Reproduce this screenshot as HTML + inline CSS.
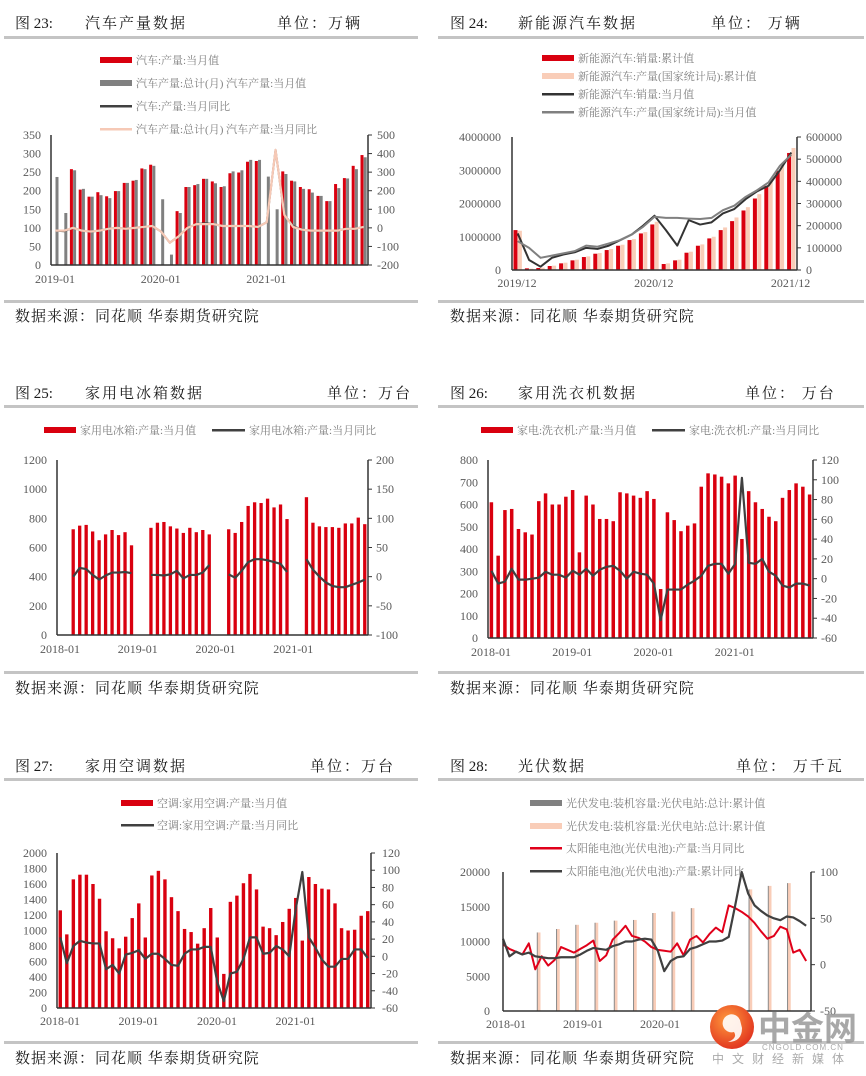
<!DOCTYPE html>
<html><head><meta charset="utf-8">
<style>
html,body{margin:0;padding:0;background:#fff;}
svg{display:block;}
.t{font-family:"Liberation Serif","Noto Serif CJK SC",serif;font-size:15px;fill:#1a1a1a;}
.src{font-family:"Liberation Serif","Noto Serif CJK SC",serif;font-size:15px;fill:#1a1a1a;letter-spacing:1px;}
.lg{font-family:"Liberation Serif","Noto Serif CJK SC",serif;font-size:11px;fill:#7f7f7f;}
.tk{font-family:"Liberation Serif","Noto Serif CJK SC",serif;font-size:12px;fill:#595959;}
</style></head>
<body>
<svg id="page" width="866" height="1076" viewBox="0 0 866 1076" xmlns="http://www.w3.org/2000/svg">
<defs><radialGradient id="wg" cx="40%" cy="35%" r="70%"><stop offset="0" stop-color="#ff9a3c"/><stop offset="1" stop-color="#e0301e"/></radialGradient></defs>
<!-- separators -->
<g fill="#c4c4c4">
<rect x="4" y="36" width="414" height="3"/><rect x="4" y="300" width="414" height="3"/>
<rect x="438" y="36" width="426" height="3"/><rect x="438" y="300" width="426" height="3"/>
<rect x="4" y="405" width="414" height="3"/><rect x="4" y="671" width="414" height="3"/>
<rect x="438" y="405" width="426" height="3"/><rect x="438" y="671" width="426" height="3"/>
<rect x="4" y="778" width="414" height="3"/><rect x="4" y="1041" width="414" height="3"/>
<rect x="438" y="778" width="426" height="3"/><rect x="438" y="1041" width="426" height="3"/>
</g>
<!-- titles -->
<text class="t" x="15" y="28">图 23:</text>
<text class="t" x="85" y="28" letter-spacing="2">汽车产量数据</text>
<text class="t" x="277" y="28" letter-spacing="2">单位：万辆</text>
<text class="t" x="450" y="28">图 24:</text>
<text class="t" x="518" y="28" letter-spacing="2">新能源汽车数据</text>
<text class="t" x="711" y="28" letter-spacing="2">单位：  万辆</text>
<text class="t" x="15" y="398">图 25:</text>
<text class="t" x="85" y="398" letter-spacing="2">家用电冰箱数据</text>
<text class="t" x="327" y="398" letter-spacing="2">单位：万台</text>
<text class="t" x="450" y="398">图 26:</text>
<text class="t" x="518" y="398" letter-spacing="2">家用洗衣机数据</text>
<text class="t" x="745" y="398" letter-spacing="2">单位：  万台</text>
<text class="t" x="15" y="771">图 27:</text>
<text class="t" x="85" y="771" letter-spacing="2">家用空调数据</text>
<text class="t" x="310" y="771" letter-spacing="2">单位：万台</text>
<text class="t" x="450" y="771">图 28:</text>
<text class="t" x="518" y="771" letter-spacing="2">光伏数据</text>
<text class="t" x="736" y="771" letter-spacing="2">单位：  万千瓦</text>
<!-- sources -->
<text class="src" x="15" y="321">数据来源：同花顺 华泰期货研究院</text>
<text class="src" x="450" y="321">数据来源：同花顺 华泰期货研究院</text>
<text class="src" x="15" y="693">数据来源：同花顺 华泰期货研究院</text>
<text class="src" x="450" y="693">数据来源：同花顺 华泰期货研究院</text>
<text class="src" x="15" y="1063">数据来源：同花顺 华泰期货研究院</text>
<text class="src" x="450" y="1063">数据来源：同花顺 华泰期货研究院</text>
<!-- legends -->
<g>
<rect x="100" y="57" width="32" height="6" fill="#d9000f"/><text class="lg" x="136" y="64">汽车:产量:当月值</text>
<rect x="100" y="80" width="32" height="6" fill="#808080"/><text class="lg" x="136" y="87">汽车产量:总计(月) 汽车产量:当月值</text>
<rect x="100" y="105" width="32" height="2.5" fill="#404040"/><text class="lg" x="136" y="110">汽车:产量:当月同比</text>
<rect x="100" y="128" width="32" height="2.5" fill="#f6c9b6"/><text class="lg" x="136" y="133">汽车产量:总计(月) 汽车产量:当月同比</text>
</g>
<g>
<rect x="542" y="55" width="32" height="6" fill="#d9000f"/><text class="lg" x="578" y="62">新能源汽车:销量:累计值</text>
<rect x="542" y="73" width="32" height="6" fill="#f9cdb8"/><text class="lg" x="578" y="80">新能源汽车:产量(国家统计局):累计值</text>
<rect x="542" y="93" width="32" height="2.5" fill="#333"/><text class="lg" x="578" y="98">新能源汽车:销量:当月值</text>
<rect x="542" y="111" width="32" height="2.5" fill="#808080"/><text class="lg" x="578" y="116">新能源汽车:产量(国家统计局):当月值</text>
</g>
<g>
<rect x="44" y="427" width="32" height="6" fill="#d9000f"/><text class="lg" x="80" y="434">家用电冰箱:产量:当月值</text>
<rect x="212" y="429" width="33" height="2.5" fill="#404040"/><text class="lg" x="249" y="434">家用电冰箱:产量:当月同比</text>
</g>
<g>
<rect x="481" y="427" width="32" height="6" fill="#d9000f"/><text class="lg" x="517" y="434">家电:洗衣机:产量:当月值</text>
<rect x="652" y="429" width="33" height="2.5" fill="#404040"/><text class="lg" x="689" y="434">家电:洗衣机:产量:当月同比</text>
</g>
<g>
<rect x="121" y="800" width="32" height="6" fill="#d9000f"/><text class="lg" x="157" y="807">空调:家用空调:产量:当月值</text>
<rect x="121" y="824" width="33" height="2.5" fill="#404040"/><text class="lg" x="157" y="829">空调:家用空调:产量:当月同比</text>
</g>
<g>
<rect x="530" y="800" width="32" height="6" fill="#808080"/><text class="lg" x="566" y="807">光伏发电:装机容量:光伏电站:总计:累计值</text>
<rect x="530" y="823" width="32" height="6" fill="#f9cdb8"/><text class="lg" x="566" y="830">光伏发电:装机容量:光伏电站:总计:累计值</text>
<rect x="530" y="847" width="32" height="2.5" fill="#e0001a"/><text class="lg" x="566" y="852">太阳能电池(光伏电池):产量:当月同比</text>
<rect x="530" y="870" width="32" height="2.5" fill="#404040"/><text class="lg" x="566" y="875">太阳能电池(光伏电池):产量:累计同比</text>
</g>
<g id="charts"></g>
<!-- watermark -->
<g>
<circle cx="732" cy="1027" r="22" fill="url(#wg)"/>
<path d="M740 1020 a9 9 0 1 0 -6 12 q4 6 -6 10 q14 0 14 -14 z" fill="#fff" opacity="0.9"/>
<text x="758" y="1040" font-family="'Noto Sans CJK SC',sans-serif" font-weight="bold" font-size="33" fill="#9a9a9a" opacity="0.85">中金网</text>
<text x="762" y="1050" font-family="'Liberation Sans',sans-serif" font-size="8" fill="#aaa" letter-spacing="1">CNGOLD.COM.CN</text>
<text x="712" y="1063" font-family="'Noto Sans CJK SC',sans-serif" font-size="12" fill="#aaa" letter-spacing="8">中文财经新媒体</text>
</g>
</svg>
<script>
// ---------- Fig 23 data ----------
const c23Red  = [null,null,258,203,184,196,185,199,221,227,260,270, null,null,145,210,215,232,225,210,247,249,278,280, null,null,252,227,210,204,186,172,218,234,267,296];
const c23Gray = [237,140,255,205,184,188,180,199,221,229,258,267, 177,28,140,210,218,232,220,212,252,255,283,283, 238,150,245,225,205,195,186,172,207,233,258,290];
const c23YoyDark = [-15,-18,0,-15,-20,-15,-5,0,-5,0,5,10, -20,-80,-45,0,20,25,20,10,10,10,10,5, 30,420,70,10,-10,-15,-15,-15,-15,-5,-5,5];
const c23YoyPink = [-15,-15,0,-15,-20,-15,-5,0,-5,0,5,10, -20,-80,-45,0,20,20,20,10,10,10,10,5, 30,420,70,5,-10,-15,-15,-15,-15,-5,-5,5];
const c23LeftTicks = [0,50,100,150,200,250,300,350];
const c23RightTicks = [-200,-100,0,100,200,300,400,500];
const c23XLabels = ['2019-01','2020-01','2021-01'];
const c23XIdx = [0,12,24];
// ---------- Fig 24 data ----------
const c24Red  = [1200000,50000,60000,120000,200000,290000,390000,490000,600000,730000,900000,1100000,1370000,180000,290000,520000,730000,950000,1200000,1470000,1790000,2150000,2530000,2980000,3520000];
const c24Pink = [1180000,40000,70000,130000,220000,310000,410000,510000,630000,760000,930000,1140000,1450000,200000,310000,550000,770000,1000000,1280000,1580000,1890000,2280000,2680000,3160000,3670000];
const c24SalesM = [165000,45000,15000,55000,70000,80000,100000,95000,110000,135000,160000,200000,245000,180000,110000,225000,205000,215000,255000,275000,320000,355000,380000,450000,530000];
const c24ProdM  = [130000,100000,55000,65000,75000,85000,110000,105000,120000,135000,160000,195000,240000,235000,235000,232000,230000,235000,270000,290000,330000,360000,395000,470000,520000];
const c24LeftTicks = [0,1000000,2000000,3000000,4000000];
const c24RightTicks = [0,100000,200000,300000,400000,500000,600000];
const c24XLabels = ['2019/12','2020/12','2021/12'];
const c24XIdx = [0,12,24];
// ---------- Fig 25 data ----------
const c25Bars = [null,null,725,750,755,710,650,690,720,685,705,615, null,null,735,770,775,745,730,700,735,705,720,690, null,null,725,700,775,885,910,905,935,875,895,795, null,null,945,770,745,740,740,735,765,765,805,760];
const c25Yoy  = [null,null,0,15,13,3,-5,2,7,7,8,6, null,null,3,3,2,4,10,-3,3,3,7,20, null,null,4,-2,10,25,30,30,28,25,22,8, null,null,30,12,0,-10,-16,-18,-18,-14,-10,-5];
const c25LeftTicks = [0,200,400,600,800,1000,1200];
const c25RightTicks = [-100,-50,0,50,100,150,200];
const c25XLabels = ['2018-01','2019-01','2020-01','2021-01'];
const c25XIdx = [0,12,24,36];
// ---------- Fig 26 data ----------
const c26Bars = [610,370,575,580,490,475,465,615,650,600,600,635, 665,385,640,600,535,535,525,655,650,640,630,660, 625,220,565,530,480,505,515,680,740,735,725,695, 730,445,660,610,580,545,525,630,665,695,680,645];
const c26Yoy  = [8,-5,-3,10,-1,-1,0,1,7,4,4,1, 8,4,10,3,9,12,13,8,0,7,5,4, -5,-42,-11,-11,-11,-6,-2,3,13,15,15,5, 15,102,16,15,20,7,3,-7,-9,-5,-5,-7];
const c26LeftTicks = [0,100,200,300,400,500,600,700,800];
const c26RightTicks = [-60,-40,-20,0,20,40,60,80,100,120];
const c26XLabels = ['2018-01','2019-01','2020-01','2021-01'];
const c26XIdx = [0,12,24,36];
// ---------- Fig 27 data ----------
const c27Bars = [1260,950,1660,1720,1720,1600,1410,990,900,770,920,1160, 1350,910,1710,1770,1660,1430,1250,1020,980,830,1030,1290, 910,440,1370,1450,1610,1730,1530,1050,1030,940,1110,1280, 1420,870,1690,1600,1540,1530,1350,1030,1000,1010,1190,1250];
const c27Yoy  = [22,-8,12,18,16,15,15,-15,-10,-20,2,4, 7,-3,3,3,-3,-10,-11,3,8,8,11,11, -30,-52,-20,-18,-3,22,22,3,4,12,8,0, 55,98,22,10,-4,-12,-12,-3,-3,8,8,-2];
const c27LeftTicks = [0,200,400,600,800,1000,1200,1400,1600,1800,2000];
const c27RightTicks = [-60,-40,-20,0,20,40,60,80,100,120];
const c27XLabels = ['2018-01','2019-01','2020-01','2021-01'];
const c27XIdx = [0,12,24,36];
// ---------- Fig 28 data ----------
const c28CapGray = [null,null,null,null,null,11300,null,null,11800,null,null,12400, null,null,12700,null,null,13000,null,null,13100,null,null,14100, null,null,14300,null,null,14800,null,null,null,null,null,null, null,null,17500,null,null,18000,null,null,18400,null,null,null];
const c28CapPink = c28CapGray;
const c28MonthYoy = [22,17,14,11,23,-5,9,-1,5,19,16,13, 17,21,26,4,10,27,34,42,31,29,25,19, 16,15,14,23,10,27,31,24,33,40,35,64, 61,57,52,45,36,28,31,41,38,13,16,4];
const c28CumYoy   = [28,9,14,11,13,9,8,7,7,8,8,8, 11,15,18,17,16,20,22,25,25,27,28,27, 15,-7,4,8,9,17,19,22,25,25,26,30, 64,100,77,64,58,53,50,48,52,51,47,42];
const c28LeftTicks = [0,5000,10000,15000,20000];
const c28RightTicks = [-50,0,50,100];
const c28XLabels = ['2018-01','2019-01','2020-01'];
const c28XIdx = [0,12,24];

const NS = 'http://www.w3.org/2000/svg';
const root = document.getElementById('charts');
function mk(tag, attrs, parent){
  const e = document.createElementNS(NS, tag);
  for (const k in attrs) e.setAttribute(k, attrs[k]);
  parent.appendChild(e);
  return e;
}
function drawChart(cfg){
  const g = mk('g', {}, root);
  
  
  const H = cfg.bottom - cfg.top;
  const yL = v => cfg.bottom - (v - cfg.lMin) / (cfg.lMax - cfg.lMin) * H;
  const yR = v => cfg.bottom - (v - cfg.rMin) / (cfg.rMax - cfg.rMin) * H;
  const step = (cfg.right - cfg.left) / cfg.n;
  const xc = i => cfg.left + (i + 0.5) * step;
  const lx = cfg.lineX || xc;
  (cfg.bars || []).forEach(s => {
    const yf = s.axis === 'R' ? yR : yL;
    s.vals.forEach((v, i) => {
      if (v == null) return;
      const y = yf(v);
      const r = mk('rect', {x: (xc(i) + s.off - s.w / 2).toFixed(2), y: y.toFixed(2), width: s.w, height: Math.max(0, cfg.bottom - y).toFixed(2), fill: s.color}, g);
      
      
    });
  });
  (cfg.lines || []).forEach(s => {
    const yf = s.axis === 'R' ? yR : yL;
    let segs = [], cur = [];
    s.vals.forEach((v, i) => {
      if (v == null) { if (cur.length) segs.push(cur); cur = []; return; }
      cur.push(lx(i).toFixed(2) + ',' + yf(v).toFixed(2));
    });
    if (cur.length) segs.push(cur);
    segs.forEach(pts => {
      const p = mk('polyline', {points: pts.join(' '), fill: 'none', stroke: s.color, 'stroke-width': s.w, 'stroke-linejoin': 'round'}, g);
      
      
    });
  });
  // axes
  const la = mk('line', {x1: cfg.left, y1: cfg.top, x2: cfg.left, y2: cfg.bottom, stroke: '#333', 'stroke-width': 1.5}, g);
  
  
  const ra = mk('line', {x1: cfg.right, y1: cfg.top, x2: cfg.right, y2: cfg.bottom, stroke: '#333', 'stroke-width': 1.5}, g);
  
  
  const xa = mk('line', {x1: cfg.left, y1: cfg.xAxisY || cfg.bottom, x2: cfg.right, y2: cfg.xAxisY || cfg.bottom, stroke: '#333', 'stroke-width': 1.5}, g);
  
  
  cfg.lTicks.forEach(v => {
    const t = mk('text', {x: cfg.lLabelX, y: (yL(v) + 4).toFixed(1), 'text-anchor': 'end', class: 'tk'}, g);
    t.textContent = v;
    
    
  });
  cfg.rTicks.forEach(v => {
    const tm = mk('line', {x1: cfg.right, x2: cfg.right + 4, y1: yR(v), y2: yR(v), stroke: '#333', 'stroke-width': 1}, g);
    
    
    const t = mk('text', {x: cfg.rLabelX, y: (yR(v) + 4).toFixed(1), class: 'tk'}, g);
    t.textContent = v;
    
    
  });
  cfg.xLabels.forEach((s, k) => {
    const t = mk('text', {x: (cfg.left + cfg.xIdx[k] * step + cfg.xLabelDx).toFixed(1), y: cfg.xLabelY, 'text-anchor': 'middle', class: 'tk'}, g);
    t.textContent = s;
    
    
  });
}

drawChart({name:'fig23-chart', left:51, right:368, top:135, bottom:265, n:36, lMin:0, lMax:350, rMin:-200, rMax:500,
  lTicks:c23LeftTicks, rTicks:c23RightTicks, lLabelX:41, rLabelX:377, xLabels:c23XLabels, xIdx:c23XIdx, xLabelY:283, xLabelDx:4,
  bars:[{name:'bar-car-output', vals:c23Red, color:'#d9000f', off:-1.6, w:3},{name:'bar-car-output-total', vals:c23Gray, color:'#808080', off:1.6, w:3}],
  lines:[{name:'line-car-yoy', vals:c23YoyDark, color:'#404040', w:2, axis:'R'},{name:'line-car-total-yoy', vals:c23YoyPink, color:'#f6c9b6', w:2.2, axis:'R'}]});

drawChart({name:'fig24-chart', left:512, right:797, top:137, bottom:270, n:25, lMin:0, lMax:4000000, rMin:0, rMax:600000,
  lTicks:c24LeftTicks, rTicks:c24RightTicks, lLabelX:501, rLabelX:806, xLabels:c24XLabels, xIdx:c24XIdx, xLabelY:287, xLabelDx:5,
  bars:[{name:'bar-nev-sales-cum', vals:c24Red, color:'#d9000f', off:-2.2, w:4},{name:'bar-nev-prod-cum', vals:c24Pink, color:'#f9cdb8', off:2.2, w:4}],
  lines:[{name:'line-nev-sales-month', vals:c24SalesM, color:'#333', w:2, axis:'R'},{name:'line-nev-prod-month', vals:c24ProdM, color:'#808080', w:2, axis:'R'}]});

drawChart({name:'fig25-chart', left:57, right:368, top:460, bottom:635, n:48, lMin:0, lMax:1200, rMin:-100, rMax:200,
  lTicks:c25LeftTicks, rTicks:c25RightTicks, lLabelX:47, rLabelX:376, xLabels:c25XLabels, xIdx:c25XIdx, xLabelY:653, xLabelDx:3,
  bars:[{name:'bar-fridge-output', vals:c25Bars, color:'#d9000f', off:0, w:3.3}],
  lines:[{name:'line-fridge-yoy', vals:c25Yoy, color:'#404040', w:2.2, axis:'R'}]});

drawChart({name:'fig26-chart', left:488, right:813, top:460, bottom:638, n:48, lMin:0, lMax:800, rMin:-60, rMax:120,
  lTicks:c26LeftTicks, rTicks:c26RightTicks, lLabelX:478, rLabelX:821, xLabels:c26XLabels, xIdx:c26XIdx, xLabelY:656, xLabelDx:3,
  bars:[{name:'bar-washer-output', vals:c26Bars, color:'#d9000f', off:0, w:3.5}],
  lines:[{name:'line-washer-yoy', vals:c26Yoy, color:'#404040', w:2.2, axis:'R'}]});

drawChart({name:'fig27-chart', left:57, right:371, top:853, bottom:1008, n:48, lMin:0, lMax:2000, rMin:-60, rMax:120,
  lTicks:c27LeftTicks, rTicks:c27RightTicks, lLabelX:47, rLabelX:382, xLabels:c27XLabels, xIdx:c27XIdx, xLabelY:1025, xLabelDx:3,
  bars:[{name:'bar-ac-output', vals:c27Bars, color:'#d9000f', off:0, w:3.4}],
  lines:[{name:'line-ac-yoy', vals:c27Yoy, color:'#404040', w:2.2, axis:'R'}]});

drawChart({name:'fig28-chart', left:503, right:811, top:872, bottom:1011, n:48, lMin:0, lMax:20000, rMin:-50, rMax:100,
  lTicks:c28LeftTicks, rTicks:c28RightTicks, lLabelX:490, rLabelX:820, xLabels:c28XLabels, xIdx:c28XIdx, xLabelY:1028, xLabelDx:3,
  lineX: i => 503 + i * 6.45,
  bars:[{name:'bar-pv-capacity-pink', vals:c28CapPink, color:'#f9cdb8', off:0.6, w:3.2},{name:'bar-pv-capacity-gray', vals:c28CapGray, color:'#8a8a8a', off:-1, w:1}],
  lines:[{name:'line-pv-cell-month-yoy', vals:c28MonthYoy, color:'#e0001a', w:2, axis:'R'},{name:'line-pv-cell-cum-yoy', vals:c28CumYoy, color:'#404040', w:2.2, axis:'R'}]});
</script>
</body></html>
